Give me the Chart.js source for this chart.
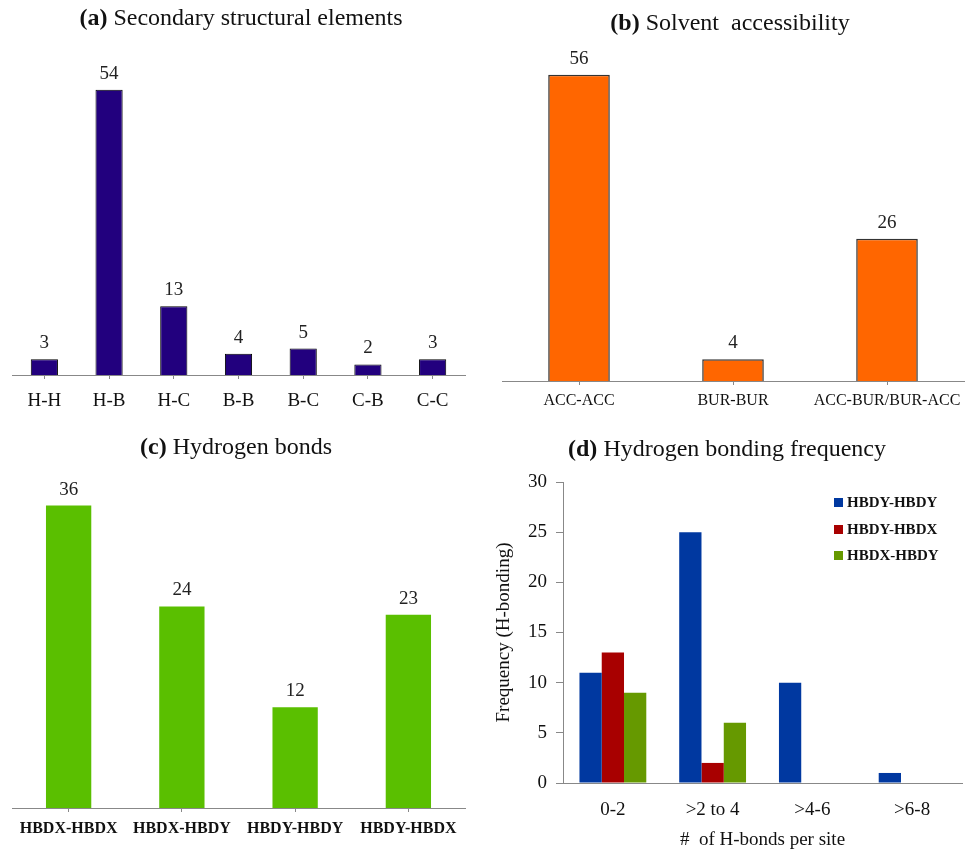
<!DOCTYPE html>
<html>
<head>
<meta charset="utf-8">
<script src="https://cdn.jsdelivr.net/npm/chart.js@4/dist/chart.umd.min.js"></script>
<style>
  body { margin: 0; background: #fff; }
  #wrap { position: relative; width: 968px; height: 851px; font-family: "Liberation Serif", serif; }
  canvas { position: absolute; }
  .title { position: absolute; width: 484px; text-align: center; font-size: 24px; line-height: 28px; color: #111; white-space: pre; }
  .legend { position: absolute; left: 834px; top: 489px; font-size: 15px; font-weight: bold; color: #111; }
  .legend div { height: 26.5px; line-height: 26.5px; white-space: nowrap; }
  .legend span { display: inline-block; width: 9px; height: 9px; margin-right: 4px; vertical-align: 0px; }
</style>
</head>
<body>
<div id="wrap">
  <canvas id="chartA" width="484" height="420" style="left:0;top:0"></canvas>
  <canvas id="chartB" width="484" height="420" style="left:484px;top:0"></canvas>
  <canvas id="chartC" width="484" height="431" style="left:0;top:420px"></canvas>
  <canvas id="chartD" width="484" height="431" style="left:484px;top:420px"></canvas>
  <div class="title" style="left:-1px;top:3px"><b>(a)</b> Secondary structural elements</div>
  <div class="title" style="left:488px;top:8px"><b>(b)</b> Solvent  accessibility</div>
  <div class="title" style="left:-6px;top:432px"><b>(c)</b> Hydrogen bonds</div>
  <div class="title" style="left:485px;top:434px"><b>(d)</b> Hydrogen bonding frequency</div>
  <div class="legend" id="legendD"></div>
</div>
<script>
// (a) secondary structural elements
const ssLabels = ['H-H', 'H-B', 'H-C', 'B-B', 'B-C', 'C-B', 'C-C'];
const ssCounts = [3, 54, 13, 4, 5, 2, 3];

// (b) solvent accessibility
const saLabels = ['ACC-ACC', 'BUR-BUR', 'ACC-BUR/BUR-ACC'];
const saCounts = [56, 4, 26];

// (c) hydrogen bonds
const hbLabels = ['HBDX-HBDX', 'HBDX-HBDY', 'HBDY-HBDY', 'HBDY-HBDX'];
const hbCounts = [36, 24, 12, 23];

// (d) hydrogen bonding frequency
const freqLabels = ['0-2', '>2 to 4', '>4-6', '>6-8'];
const freqSeries = ['HBDY-HBDY', 'HBDY-HBDX', 'HBDX-HBDY'];
const freqHbdyHbdy = [11, 25, 10, 1];
const freqHbdyHbdx = [13, 2, 0, 0];
const freqHbdxHbdy = [9, 6, 0, 0];
const freqColors = ['#0038a0', '#a80000', '#669900'];

const serif = '"Liberation Serif", "Times New Roman", serif';

const valueLabels = {
    id: 'valueLabels',
    afterDatasetsDraw(chart) {
        const ctx = chart.ctx;
        ctx.save();
        ctx.font = '19px ' + serif;
        ctx.fillStyle = '#222';
        ctx.textAlign = 'center';
        ctx.textBaseline = 'alphabetic';
        chart.getDatasetMeta(0).data.forEach((bar, i) => {
            ctx.fillText(chart.data.datasets[0].data[i], bar.x, bar.y - 11);
        });
        ctx.restore();
    }
};

function barConfig(labels, values, style, o) {
    return {
        type: 'bar',
        data: {
            labels: labels,
            datasets: [Object.assign({ data: values, barPercentage: o.bar, categoryPercentage: 1 }, style)]
        },
        options: {
            responsive: false,
            animation: false,
            layout: { padding: o.padding },
            plugins: { legend: { display: false }, tooltip: { enabled: false } },
            scales: {
                x: {
                    offset: true,
                    grid: { display: true, drawOnChartArea: false, offset: false, tickLength: 4, color: '#888' },
                    border: { color: '#888' },
                    ticks: { font: { family: serif, size: o.tickSize, weight: o.tickWeight }, color: '#111', padding: o.tickPad, maxRotation: 0, autoSkip: false },
                    afterFit: (s) => { s.height = o.axisH; }
                },
                y: { display: false, min: 0, max: o.max }
            }
        },
        plugins: [valueLabels]
    };
}

new Chart(document.getElementById('chartA'), barConfig(ssLabels, ssCounts,
    { backgroundColor: '#22007e', borderColor: '#000', borderWidth: 1 },
    { bar: 0.42, max: 60, padding: { left: 12, right: 19, top: 58, bottom: 5 }, axisH: 40, tickSize: 19, tickWeight: 'normal', tickPad: 11 }));

new Chart(document.getElementById('chartB'), barConfig(saLabels, saCounts,
    { backgroundColor: '#ff6600', borderColor: '#333', borderWidth: 1.5 },
    { bar: 0.40, max: 60, padding: { left: 18, right: 4, top: 53, bottom: 5 }, axisH: 34, tickSize: 16, tickWeight: 'normal', tickPad: 6 }));

new Chart(document.getElementById('chartC'), barConfig(hbLabels, hbCounts,
    { backgroundColor: '#5abf00' },
    { bar: 0.40, max: 40, padding: { left: 12, right: 19, top: 52, bottom: 5 }, axisH: 38, tickSize: 16, tickWeight: 'bold', tickPad: 7 }));

new Chart(document.getElementById('chartD'), {
    type: 'bar',
    data: {
        labels: freqLabels,
        datasets: [
            { label: freqSeries[0], data: freqHbdyHbdy, backgroundColor: freqColors[0] },
            { label: freqSeries[1], data: freqHbdyHbdx, backgroundColor: freqColors[1] },
            { label: freqSeries[2], data: freqHbdxHbdy, backgroundColor: freqColors[2] }
        ]
    },
    options: {
        responsive: false,
        animation: false,
        datasets: { bar: { categoryPercentage: 0.67, barPercentage: 1 } },
        layout: { padding: { left: 0, right: 6, top: 62, bottom: 0 } },
        plugins: { legend: { display: false }, tooltip: { enabled: false } },
        scales: {
            x: {
                grid: { display: false },
                border: { color: '#888' },
                ticks: { font: { family: serif, size: 19 }, color: '#111', padding: 8, maxRotation: 0 },
                title: { display: true, text: '#  of H-bonds per site', font: { family: serif, size: 19 }, color: '#111', padding: 0 },
                afterFit: (s) => { s.height = 68; }
            },
            y: {
                min: 0,
                max: 30,
                grid: { drawOnChartArea: false, tickLength: 7, color: '#888' },
                border: { color: '#888' },
                ticks: { stepSize: 5, font: { family: serif, size: 19 }, color: '#111', padding: 9 },
                title: { display: true, text: 'Frequency (H-bonding)', font: { family: serif, size: 19 }, color: '#111', padding: { top: 9, bottom: 0 } },
                afterFit: (s) => { s.width = 79; }
            }
        }
    }
});

const legendD = document.getElementById('legendD');
freqSeries.forEach((name, i) => {
    const row = document.createElement('div');
    row.innerHTML = '<span style="background:' + freqColors[i] + '"></span>' + name;
    legendD.appendChild(row);
});
</script>
</body>
</html>
